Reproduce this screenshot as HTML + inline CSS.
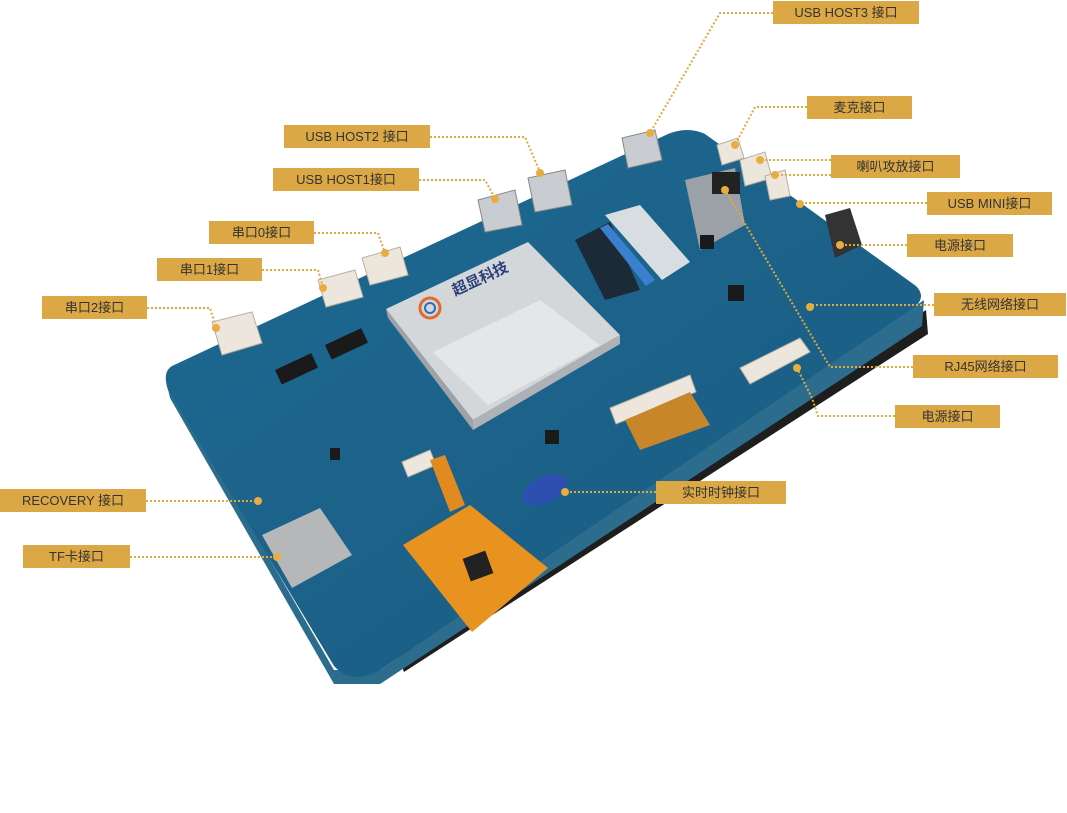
<!DOCTYPE html>
<html><head><meta charset="utf-8"><style>
html,body{margin:0;padding:0;background:#fff;}
.wrap{position:relative;width:1067px;height:813px;overflow:hidden;background:#fff;}
.lb{position:absolute;background:#dba845;color:#333;font-family:"Liberation Sans","Noto Sans CJK SC",sans-serif;font-size:13px;line-height:23px;height:23px;text-align:center;white-space:nowrap;}
svg{position:absolute;left:0;top:0;}
</style></head><body><div class="wrap">
<svg width="1067" height="813" viewBox="0 0 1067 813">
<defs>
<linearGradient id="bd" x1="0" y1="0" x2="1" y2="1"><stop offset="0" stop-color="#1d6a93"/><stop offset="1" stop-color="#1a5a80"/></linearGradient>
</defs>
<!-- LCD back -->
<polygon points="396,650 926,310 928,334 404,672" fill="#1e1e1e"/>
<!-- board edge thickness -->
<polygon points="166,380 170,398 334,684 380,684 922,326 924,300 380,670 334,670" fill="#2c6d8e"/>
<!-- board -->
<path d="M172,366 L668,134 Q688,126 705,134 L916,286 Q926,296 916,306 L380,670 Q352,686 334,666 L168,390 Q162,372 172,366 Z" fill="url(#bd)"/>
<!-- shield -->
<polygon points="386,309 528,242 620,335 473,420" fill="#d4d7da"/>
<polygon points="433,352 540,300 600,345 488,405" fill="#e4e6e8"/>
<polygon points="386,309 473,420 473,430 388,318" fill="#9ea3a8"/>
<polygon points="473,420 620,335 620,344 473,430" fill="#aeb2b6"/>
<text x="455" y="296" font-family="Liberation Sans,Noto Sans CJK SC,sans-serif" font-size="15" font-weight="bold" fill="#2a3f7a" transform="rotate(-25 455 296)">超显科技</text>
<circle cx="430" cy="308" r="10" fill="none" stroke="#e26a2c" stroke-width="3"/>
<circle cx="430" cy="308" r="5" fill="none" stroke="#2a6fb8" stroke-width="2"/>
<!-- ribbon -->
<polygon points="605,215 640,205 690,262 662,280" fill="#d8dde2"/>
<polygon points="575,240 610,222 640,290 605,300" fill="#1c2a38"/>
<polygon points="600,228 608,224 655,280 646,286" fill="#3a7fd0"/>
<!-- RJ45 -->
<polygon points="685,180 735,168 745,225 700,250" fill="#9ba1a6"/>
<rect x="712" y="172" width="28" height="22" fill="#222"/>
<!-- USB ports -->
<g fill="#c9ccd0" stroke="#888" stroke-width="1">
<polygon points="622,138 655,130 662,160 628,168"/>
<polygon points="528,178 565,170 572,205 535,212"/>
<polygon points="478,200 515,190 522,225 485,232"/>
</g>
<!-- white connectors -->
<g fill="#ece6dc" stroke="#b8b0a4" stroke-width="1">
<polygon points="212,322 252,312 262,343 222,355"/>
<polygon points="318,280 355,270 363,297 326,307"/>
<polygon points="362,258 400,247 408,275 370,285"/>
<polygon points="740,368 800,338 810,352 750,384"/>
<polygon points="717,145 738,138 744,158 722,165"/>
<polygon points="740,160 765,152 772,178 745,186"/>
<polygon points="765,176 785,170 790,196 770,200"/>
<polygon points="610,408 690,375 696,392 616,424"/>
<polygon points="402,462 430,450 436,465 408,477"/>
</g>
<polygon points="625,420 690,392 710,425 640,450" fill="#c8862a"/>
<polygon points="825,215 850,208 862,245 835,258" fill="#333"/>
<g fill="#1a1a1a">
<rect x="275" y="370" width="40" height="16" transform="rotate(-25 275 370)"/>
<rect x="325" y="345" width="40" height="16" transform="rotate(-25 325 345)"/>
<rect x="728" y="285" width="16" height="16"/>
<rect x="700" y="235" width="14" height="14"/>
<rect x="545" y="430" width="14" height="14"/>
<rect x="330" y="448" width="10" height="12"/>
</g>
<polygon points="262,535 320,508 352,555 292,588" fill="#b5b7b9"/>
<ellipse cx="545" cy="490" rx="24" ry="13" fill="#2d4fb0" transform="rotate(-25 545 490)"/>
<polygon points="430,460 445,455 465,505 450,512" fill="#e08a20"/>
<polygon points="403,545 470,505 548,568 472,632" fill="#e8921f"/>
<rect x="466" y="554" width="24" height="24" fill="#222" transform="rotate(-20 478 566)"/>
<g fill="none" stroke="#e2a93e" stroke-width="2" stroke-dasharray="2,2">
<polyline points="773,13 720,13 650,133"/>
<polyline points="807,107 755,107 735,145"/>
<polyline points="831,160 760,160"/>
<polyline points="831,175 775,175"/>
<polyline points="927,203 800,203"/>
<polyline points="907,245 840,245"/>
<polyline points="934,305 810,305"/>
<polyline points="913,367 830,367 725,190"/>
<polyline points="895,416 818,416 812,398 797,368"/>
<polyline points="656,492 565,492"/>
<polyline points="430,137 525,137 540,172"/>
<polyline points="419,180 485,180 495,198"/>
<polyline points="314,233 378,233 385,253"/>
<polyline points="262,270 318,270 323,287"/>
<polyline points="147,308 210,308 216,327"/>
<polyline points="146,501 258,501"/>
<polyline points="130,557 277,557"/>
</g>
<g fill="#e8ad3e">
<circle cx="650" cy="133" r="4"/><circle cx="735" cy="145" r="4"/><circle cx="760" cy="160" r="4"/><circle cx="775" cy="175" r="4"/>
<circle cx="800" cy="204" r="4"/><circle cx="840" cy="245" r="4"/><circle cx="810" cy="307" r="4"/><circle cx="725" cy="190" r="4"/>
<circle cx="797" cy="368" r="4"/><circle cx="565" cy="492" r="4"/><circle cx="540" cy="173" r="4"/><circle cx="495" cy="199" r="4"/>
<circle cx="385" cy="253" r="4"/><circle cx="323" cy="288" r="4"/><circle cx="216" cy="328" r="4"/><circle cx="258" cy="501" r="4"/><circle cx="277" cy="557" r="4"/>
</g>
</svg>
<div class="lb" style="left:773px;top:1px;width:146px">USB HOST3 接口</div>
<div class="lb" style="left:807px;top:96px;width:105px">麦克接口</div>
<div class="lb" style="left:831px;top:155px;width:129px">喇叭攻放接口</div>
<div class="lb" style="left:927px;top:192px;width:125px">USB MINI接口</div>
<div class="lb" style="left:907px;top:234px;width:106px">电源接口</div>
<div class="lb" style="left:934px;top:293px;width:132px">无线网络接口</div>
<div class="lb" style="left:913px;top:355px;width:145px">RJ45网络接口</div>
<div class="lb" style="left:895px;top:405px;width:105px">电源接口</div>
<div class="lb" style="left:656px;top:481px;width:130px">实时时钟接口</div>
<div class="lb" style="left:284px;top:125px;width:146px">USB HOST2 接口</div>
<div class="lb" style="left:273px;top:168px;width:146px">USB HOST1接口</div>
<div class="lb" style="left:209px;top:221px;width:105px">串口0接口</div>
<div class="lb" style="left:157px;top:258px;width:105px">串口1接口</div>
<div class="lb" style="left:42px;top:296px;width:105px">串口2接口</div>
<div class="lb" style="left:0px;top:489px;width:146px">RECOVERY 接口</div>
<div class="lb" style="left:23px;top:545px;width:107px">TF卡接口</div>
</div></body></html>
